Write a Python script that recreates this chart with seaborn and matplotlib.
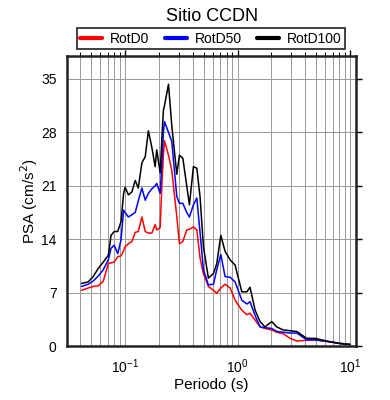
#!/usr/bin/env python3
"""Espectro de respuesta (PSA) - Sitio CCDN, componentes RotD0 / RotD50 / RotD100."""

import matplotlib
matplotlib.use("Agg")
import matplotlib.pyplot as plt
import seaborn as sns
import pandas as pd
import numpy as np

# Periodos (s)
periodos = [0.041, 0.047, 0.052, 0.058, 0.064, 0.071, 0.075, 0.080, 0.086, 0.092,
            0.097, 0.100, 0.107, 0.115, 0.123, 0.131, 0.141, 0.151, 0.161, 0.173,
            0.185, 0.191, 0.205, 0.212, 0.219, 0.224, 0.243, 0.26, 0.288, 0.304,
            0.326, 0.353, 0.373, 0.405, 0.434, 0.464, 0.497, 0.55, 0.61, 0.653,
            0.709, 0.774, 0.858, 0.95, 1.09, 1.21, 1.29, 1.43, 1.585, 1.75,
            2.01, 2.23, 2.55, 2.93, 3.36, 4.12, 4.89, 6.21, 8.15, 10.0]

rotd0 = [7.3, 7.6, 7.8, 7.9, 8.5, 10.8, 10.9, 11.0, 11.7, 11.8,
         12.5, 13.0, 13.4, 13.7, 14.9, 15.0, 16.9, 15.0, 14.8, 14.8,
         15.9, 15.2, 15.5, 21.0, 25.0, 26.9, 25.0, 23.0, 17.0, 13.4,
         13.7, 15.2, 15.3, 15.6, 15.2, 11.5, 9.5, 7.8, 7.3, 6.9,
         7.6, 8.1, 7.6, 6.0, 4.7, 4.1, 4.3, 3.4, 2.5, 2.3,
         2.1, 1.8, 1.6, 1.0, 0.65, 0.75, 0.8, 0.6, 0.35, 0.2]

rotd50 = [7.8, 8.1, 8.5, 9.2, 10.0, 11.3, 12.8, 13.2, 12.1, 13.9,
          17.8, 17.5, 16.9, 17.2, 17.5, 19.0, 20.7, 19.1, 20.0, 20.6,
          21.0, 21.3, 20.0, 24.0, 28.0, 29.4, 28.0, 26.8, 19.6, 18.7,
          18.7, 17.5, 16.9, 18.5, 19.4, 14.8, 10.0, 8.0, 8.1, 10.0,
          12.0, 9.1, 9.0, 8.4, 6.0, 5.5, 5.8, 4.0, 2.5, 2.4,
          2.3, 1.9, 1.8, 1.7, 1.7, 0.8, 0.8, 0.6, 0.35, 0.2]

rotd100 = [8.2, 8.4, 9.1, 10.2, 11.0, 11.9, 14.5, 15.0, 15.0, 16.3,
           20.0, 20.8, 19.8, 20.2, 21.7, 20.7, 24.0, 24.8, 28.2, 26.0,
           23.5, 25.7, 22.7, 27.0, 30.9, 31.5, 34.3, 28.9, 22.5, 25.0,
           24.6, 21.0, 18.5, 23.5, 23.3, 19.5, 13.0, 8.9, 9.5, 10.8,
           14.5, 12.4, 11.3, 10.6, 7.1, 7.1, 7.7, 4.7, 3.2, 2.5,
           3.2, 2.5, 2.1, 2.0, 1.9, 1.0, 1.0, 0.65, 0.3, 0.2]

componentes = ["RotD0", "RotD50", "RotD100"]
colores = {"RotD0": "#ff0000", "RotD50": "#0000ff", "RotD100": "#000000"}

sns.set_theme(style="white")
plt.rcParams["font.family"] = ["Liberation Sans", "DejaVu Sans"]
plt.rcParams.update({"text.color": "black", "axes.labelcolor": "black",
                     "xtick.color": "black", "ytick.color": "black"})

df = pd.DataFrame({
    "periodo": periodos * 3,
    "psa": rotd0 + rotd50 + rotd100,
    "comp": np.repeat(componentes, len(periodos)),
})

fig = plt.figure(figsize=(3.9, 4.0), dpi=100)
ax = fig.add_axes([0.172, 0.135, 0.741, 0.725])

sns.lineplot(data=df, x="periodo", y="psa", hue="comp", hue_order=componentes,
             palette=colores, linewidth=1.1, ax=ax, legend=False,
             estimator=None, sort=False)

ax.set_xscale("log")
ax.set_xlim(0.0305, 11.3)
ax.set_ylim(0, 38)
ax.set_yticks([0, 7, 14, 21, 28, 35])
ax.grid(True, which="both", axis="x", color="#999999", linewidth=0.7)
ax.grid(True, which="major", axis="y", color="#999999", linewidth=0.7)
ax.set_axisbelow(True)

for s in ax.spines.values():
    s.set_linewidth(1.8)
    s.set_color("#222222")
ax.tick_params(which="both", direction="out", top=True, right=True,
               labeltop=False, labelright=False, labelsize=10)
ax.tick_params(which="major", length=4, width=1)
ax.tick_params(which="minor", length=3, width=0.7)
ax.tick_params(axis="x", which="major", pad=4)

ax.set_xlabel("Periodo (s)", fontsize=11, labelpad=2)
ax.set_ylabel("PSA (cm/s$^2$)", fontsize=11, labelpad=1)
ax.set_title("Sitio CCDN", fontsize=13, pad=25)

handles = [plt.Line2D([], [], color=colores[c], linewidth=3) for c in componentes]
leg = ax.legend(handles, componentes, loc="center", bbox_to_anchor=(0.497, 1.06),
                ncol=3, fontsize=10, frameon=True, fancybox=False,
                handlelength=1.6, columnspacing=1.1, handletextpad=0.55,
                borderpad=0.25, borderaxespad=0)
leg.get_frame().set_edgecolor("black")
leg.get_frame().set_linewidth(1.3)

fig.savefig("out.png", dpi=100)
